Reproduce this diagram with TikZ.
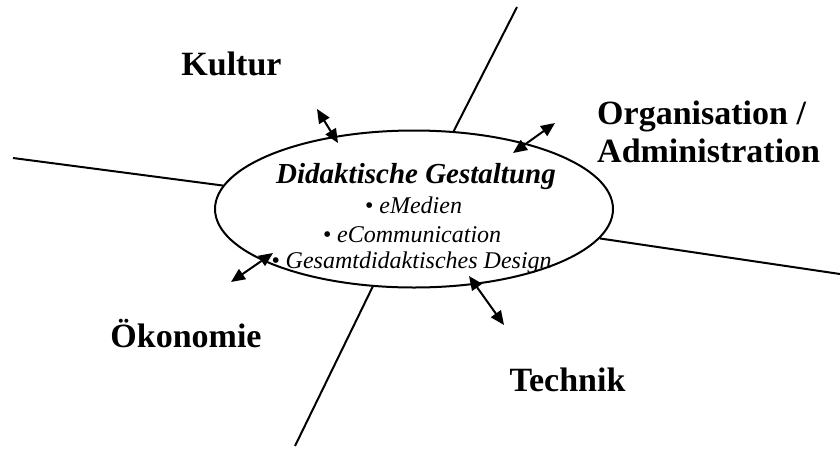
\documentclass[tikz,border=0pt]{standalone}
\usepackage{fontspec}
\setmainfont{Liberation Serif}
\usetikzlibrary{arrows.meta,shapes.geometric}
\begin{document}
\begin{tikzpicture}[x=1pt,y=-1pt,
  axis/.style={line width=2pt},
  link/.style={line width=2pt,
    {Triangle[length=14pt,width=12pt]}-{Triangle[length=14pt,width=12pt]}},
  field/.style={font=\fontsize{34}{38}\selectfont\bfseries, inner sep=0pt, anchor=base},
  heading/.style={font=\fontsize{29}{32}\selectfont\bfseries\itshape, inner sep=0pt, anchor=base},
  item/.style={font=\fontsize{24}{28}\selectfont\itshape, inner sep=0pt, anchor=base}]
\useasboundingbox (0,0) rectangle (840,448);

% central ellipse
\node[draw, ellipse, line width=2pt, minimum width=398pt, minimum height=157pt,
      inner sep=0pt] (core) at (414,209) {};

% the four dividing lines
\coordinate (endN) at (517,7);
\coordinate (endS) at (295,446);
\coordinate (endW) at (13,158);
\coordinate (endE) at (840,274);
\draw[axis] (core.63) -- (endN);
\draw[axis] (core.242.6) -- (endS);
\draw[axis] (core.173.8) -- (endW);
\draw[axis] (core.-9.56) -- (endE);

% text inside the ellipse
\node[heading] (title) at (416,183) {Didaktische Gestaltung};
\node[item] (itemA) at (413.5,213) {• eMedien};
\node[item] (itemB) at (412,242) {• eCommunication};
\node[item] (itemC) at (411.5,268) {• Gesamtdidaktisches Design};

% field labels
\node[field] (kultur) at (231.5,75) {Kultur};
\node[field, anchor=base west] (orgA) at (597,124) {Organisation /};
\node[field, anchor=base west] (orgB) at (597,162.5) {Administration};
\node[field] (oekonomie) at (186,347) {Ökonomie};
\node[field] (technik) at (567.5,391) {Technik};

% double-headed arrows between the ellipse and each field
\coordinate (kOut) at (317,109);  \coordinate (kIn) at (338,143);
\coordinate (oOut) at (555,123);  \coordinate (oIn) at (513,153);
\coordinate (eOut) at (231,282);  \coordinate (eIn) at (273,253);
\coordinate (tOut) at (504,325);  \coordinate (tIn) at (469,276);
\draw[link] (kOut) -- (kIn);
\draw[link] (oOut) -- (oIn);
\draw[link] (eOut) -- (eIn);
\draw[link] (tOut) -- (tIn);
\end{tikzpicture}
\end{document}
